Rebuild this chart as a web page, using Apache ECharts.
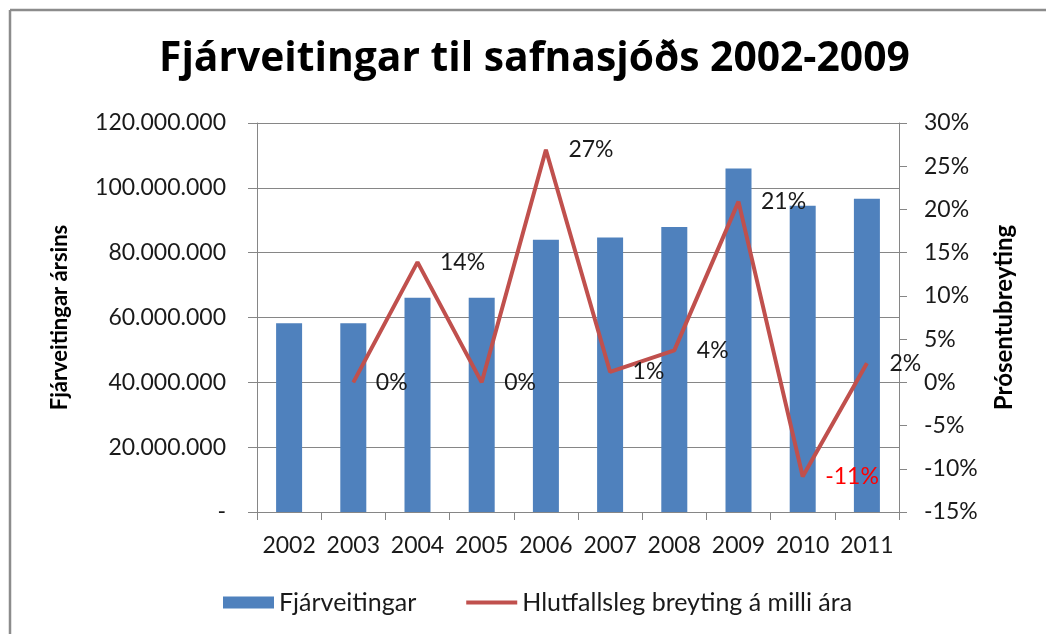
<!DOCTYPE html>
<html>
<head>
<meta charset="utf-8">
<script src="https://cdn.jsdelivr.net/npm/echarts@6/dist/echarts.min.js"></script>
<style>
html,body{margin:0;padding:0;background:#fff;}
#chart{width:1046px;height:634px;}
</style>
</head>
<body>
<div id="chart"></div>
<script>
// ---- data ----
const titleText = 'Fjárveitingar til safnasjóðs 2002-2009';
const years = ['2002','2003','2004','2005','2006','2007','2008','2009','2010','2011'];
const funding = [58200000, 58200000, 66100000, 66100000, 84000000, 84700000, 87900000, 106000000, 94500000, 96600000];
const pctChange = [null, 0, 13.9, 0, 26.9, 1.2, 3.7, 20.9, -10.9, 2.2];
const leftAxisName = 'Fjárveitingar ársins';
const rightAxisName = 'Prósentubreyting';
const barName = 'Fjárveitingar';
const lineName = 'Hlutfallsleg breyting á milli ára';

const FONT = 'Lato';
const GRAY = '#868686';
const TXT = '#1a1a1a';

function thousands(v) {
  if (v === 0) return '-';
  return String(v).replace(/\B(?=(\d{3})+(?!\d))/g, '.');
}

const lineData = pctChange.map(v => v === null ? null : {
  value: v,
  label: v < 0 ? { color: '#FF0000' } : undefined
});

const chart = echarts.init(document.getElementById('chart'), null, { renderer: 'canvas' });
chart.setOption({
  animation: false,
  backgroundColor: '#ffffff',
  textStyle: { fontFamily: FONT },
  title: {
    text: titleText,
    left: 159,
    top: 39,
    padding: 0,
    textStyle: { fontFamily: 'Open Sans', fontWeight: 'bold', fontSize: 40.8, color: '#000' }
  },
  graphic: [
    { type: 'line', shape: { x1: 10, y1: 10, x2: 1046, y2: 10 }, style: { stroke: '#8c8c8c', lineWidth: 2.5 } },
    { type: 'line', shape: { x1: 10, y1: 10, x2: 10, y2: 634 }, style: { stroke: '#8c8c8c', lineWidth: 2.5 } }
  ],
  legend: {
    left: 223,
    top: 590,
    padding: 0,
    itemWidth: 51,
    itemHeight: 12,
    itemGap: 48,
    textStyle: { fontFamily: FONT, fontSize: 25, color: TXT },
    data: [
      { name: barName, icon: 'rect' },
      { name: lineName, itemStyle: { opacity: 0 }, lineStyle: { width: 4, color: '#C0504D' } }
    ]
  },
  grid: { left: 257, right: 147, top: 123, bottom: 122 },
  xAxis: {
    type: 'category',
    data: years,
    boundaryGap: true,
    axisLine: { lineStyle: { color: GRAY, width: 1 } },
    axisTick: { show: true, length: 8, alignWithLabel: false, lineStyle: { color: GRAY } },
    axisLabel: { fontFamily: FONT, fontSize: 23, color: TXT, margin: 22, interval: 0 }
  },
  yAxis: [
    {
      type: 'value',
      min: 0, max: 120000000, interval: 20000000,
      name: leftAxisName,
      nameLocation: 'middle',
      nameRotate: 90,
      nameGap: 186,
      nameTextStyle: { fontFamily: FONT, fontWeight: 'bold', fontSize: 22, color: '#000' },
      axisLine: { show: true, lineStyle: { color: GRAY } },
      axisTick: { show: true, length: 9, lineStyle: { color: GRAY } },
      splitLine: { show: true, lineStyle: { color: GRAY, width: 1 } },
      axisLabel: { fontFamily: FONT, fontSize: 23, color: TXT, margin: 31, formatter: thousands }
    },
    {
      type: 'value',
      min: -15, max: 30, interval: 5,
      name: rightAxisName,
      nameLocation: 'middle',
      nameRotate: 90,
      nameGap: 93,
      nameTextStyle: { fontFamily: FONT, fontWeight: 'bold', fontSize: 24, color: '#000' },
      position: 'right',
      axisLine: { show: true, lineStyle: { color: GRAY } },
      axisTick: { show: true, length: 8, lineStyle: { color: GRAY } },
      splitLine: { show: false },
      axisLabel: { fontFamily: FONT, fontSize: 23, color: TXT, margin: 25, formatter: v => v + '%' }
    }
  ],
  series: [
    {
      name: barName,
      type: 'bar',
      yAxisIndex: 0,
      data: funding,
      barWidth: 26,
      itemStyle: { color: '#4F81BD' }
    },
    {
      name: lineName,
      type: 'line',
      yAxisIndex: 1,
      data: lineData,
      symbol: 'circle',
      symbolSize: 1,
      showSymbol: true,
      lineStyle: { color: '#C0504D', width: 4 },
      itemStyle: { color: '#C0504D' },
      label: {
        show: true,
        position: 'right',
        distance: 22,
        fontFamily: FONT,
        fontSize: 23,
        color: TXT,
        formatter: p => Math.round(p.value) + '%'
      }
    }
  ]
});
</script>
</body>
</html>
